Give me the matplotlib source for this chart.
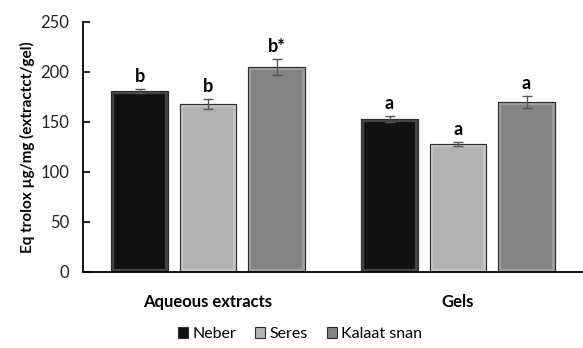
import matplotlib
matplotlib.use("Agg")
import matplotlib.pyplot as plt
from matplotlib.patches import Rectangle
import matplotlib.colors as mcolors
import numpy as np

plt.rcParams['font.family'] = ['Lato', 'DejaVu Sans']

groups = ["Aqueous extracts", "Gels"]
series = ["Neber", "Seres", "Kalaat snan"]
values = {
    "Neber": [181, 153],
    "Seres": [168, 128],
    "Kalaat snan": [205, 170],
}
errors = {
    "Neber": [2, 3],
    "Seres": [5, 2],
    "Kalaat snan": [8, 6],
}
letters = {
    "Neber": ["b", "a"],
    "Seres": ["b", "a"],
    "Kalaat snan": ["b*", "a"],
}
colors = {"Neber": "#111111", "Seres": "#b2b2b2", "Kalaat snan": "#838383"}
yticks = [0, 50, 100, 150, 200, 250]


def lighten(c, f):
    r = np.array(mcolors.to_rgb(c))
    return tuple(r + (1 - r) * f)


fig = plt.figure(figsize=(5.83, 3.48), dpi=100)
ax = fig.add_axes([0.1424, 0.2193, 0.8576, 0.7184])

x = np.arange(len(groups))
width = 0.226
step = 0.274
handles = []
for i, s in enumerate(series):
    xpos = x + (i - 1) * step
    bars = ax.bar(xpos, values[s], width, color=colors[s], edgecolor="#2e2e2e",
                  linewidth=0.8, label=s, zorder=2)
    handles.append(bars)
    # soft bevel: a lighter band just inside each bar outline
    for p in bars.patches:
        bevel = Rectangle(p.get_xy(), p.get_width(), p.get_height(), fill=False,
                          edgecolor=lighten(colors[s], 0.22), linewidth=4.5,
                          zorder=2.1)
        ax.add_patch(bevel)
        bevel.set_clip_path(p)
        outline = Rectangle(p.get_xy(), p.get_width(), p.get_height(), fill=False,
                            edgecolor="#2e2e2e", linewidth=0.8, zorder=2.2)
        ax.add_patch(outline)
    ax.errorbar(xpos, values[s], yerr=errors[s], fmt="none", ecolor="#555555",
                elinewidth=1.0, capsize=3.5, capthick=1.0, zorder=3)
    for xp, v, e, t in zip(xpos, values[s], errors[s], letters[s]):
        ax.annotate(t, (xp, v + e), xytext=(0, 3), textcoords="offset points",
                    ha="center", va="bottom", fontsize=13, fontweight="bold")

ax.set_xlim(-0.5, 1.5)
ax.set_ylim(0, 250)
ax.set_yticks(yticks)
ax.tick_params(axis="y", direction="in", length=5, width=1.2, labelsize=12, pad=10,
               labelcolor="#222222")
ax.tick_params(axis="x", length=0, pad=16)
ax.set_xticks(x)
ax.set_xticklabels(groups, fontsize=12, fontweight="bold")
for sp in ["top", "right"]:
    ax.spines[sp].set_visible(False)
ax.spines["left"].set_linewidth(1.3)
ax.spines["bottom"].set_linewidth(1.3)
ax.set_ylabel("Eq trolox µg/mg (extractct/gel)", fontsize=11, fontweight="bold",
              labelpad=4)

leg = fig.legend(handles=handles, labels=series, loc="center", bbox_to_anchor=(0.515, 0.04),
                 ncol=3, frameon=False, fontsize=11.5, handlelength=0.6, handleheight=0.6,
                 handletextpad=0.3, columnspacing=1.2)

fig.savefig("out.png", dpi=100)
